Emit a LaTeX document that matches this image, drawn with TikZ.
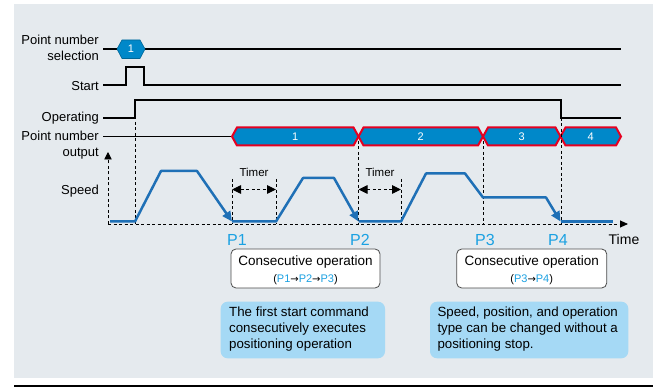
\documentclass[tikz,border=0pt]{standalone}
\usepackage{fontspec}
\setmainfont{Liberation Sans}
\newfontfamily\arrowfont{DejaVu Sans}
\usetikzlibrary{arrows.meta}
\definecolor{bg}{HTML}{E5EAEE}
\definecolor{hexblue}{HTML}{0088C9}
\definecolor{hexred}{HTML}{E60020}
\definecolor{spd}{HTML}{1F70B6}
\definecolor{plbl}{HTML}{1BA1E2}
\definecolor{note}{HTML}{A5D9F5}
\newcommand{\rarr}{{\arrowfont\fontsize{10}{12}\selectfont →}}
\tikzset{
  sig/.style={line width=1.8pt, black},
  dsh/.style={line width=0.9pt, black, dash pattern=on 3pt off 2.5pt},
  spdline/.style={line width=2.5pt, spd, line join=round},
  spdarrow/.style={-{Triangle[length=10pt,width=9pt]}},
  tmarrow/.style={{Triangle[length=9pt,width=8.5pt]}-{Triangle[length=9pt,width=8.5pt]}},
  lbl/.style={font=\fontsize{13}{16}\selectfont, anchor=east, align=right, inner sep=0pt},
  plabel/.style={font=\fontsize{16}{18}\selectfont, text=plbl, inner sep=0pt},
  timerlbl/.style={font=\fontsize{11.5}{13}\selectfont, inner sep=0pt},
  hexnum/.style={font=\fontsize{11}{13}\selectfont, text=white, inner sep=0pt},
  consbox/.style={draw=black!70, line width=0.8pt, fill=white, rounded corners=5pt, minimum height=39pt},
  notebox/.style={fill=note, rounded corners=7pt, minimum height=56.6pt},
  notetext/.style={font=\fontsize{13.3}{16}\selectfont, align=left, anchor=west, inner sep=0pt},
}
\begin{document}
\begin{tikzpicture}[x=1pt,y=-1pt]
\useasboundingbox (0,0) rectangle (653,387);
\fill[bg] (14,4) rectangle (653,378);
\draw[line width=2pt] (14,385.8) -- (653,385.8);

% labels
\node[lbl] (l1) at (99,47.5) {Point number\\selection};
\node[lbl] (l2) at (99,86) {Start};
\node[lbl] (l3) at (99,118) {Operating};
\node[lbl] (l4) at (99,145) {Point number\\output};
\node[lbl] (l5) at (99,191) {Speed};

% point number selection
\draw[sig] (103,49) -- (117,49);
\draw[sig] (145,49) -- (621,49);
\filldraw[fill=hexblue, draw=hexblue!75!black, line width=0.6pt]
  (117,49) -- (122,40) -- (140,40) -- (145,49) -- (140,58.5) -- (122,58.5) -- cycle;
\node[hexnum] (s1) at (131,49) {1};

% start
\draw[sig] (103,85) -- (126,85) -- (126,67) -- (144,67) -- (144,85) -- (621,85);
% operating
\draw[sig] (103,118) -- (135,118) -- (135,100) -- (561,100) -- (561,118) -- (621,118);
% point number output
\draw[sig] (103,136.5) -- (232,136.5);
\foreach \a/\b/\n in {232/358.5/1, 358.5/483/2, 483/560.5/3, 560.5/621/4}{
  \filldraw[fill=hexblue, draw=hexred, line width=2pt, line join=miter]
    (\a,136.5) -- (\a+5,127.5) -- (\b-5,127.5) -- (\b,136.5) -- (\b-5,145.5) -- (\a+5,145.5) -- cycle;
  \node[hexnum] (o\n) at ({(\a+\b)/2},136.5) {\n};
}

% dashed guides
\draw[dsh] (135,100) -- (135,224);
\draw[dsh] (358.5,141) -- (358.5,224);
\draw[dsh] (483,141) -- (483,224);
\draw[dsh] (561,118) -- (561,224);
\draw[dsh] (232,179) -- (232,224);
\draw[dsh] (276,179) -- (276,224);
\draw[dsh] (401,179) -- (401,224);

% axes
\draw[dsh, -{Triangle[length=7.5pt,width=7.5pt]}] (108,224) -- (108,152);
\draw[dsh, -{Triangle[length=8pt,width=7pt]}] (108,224) -- (628,224);

% timers
\draw[dsh, tmarrow] (232,189.5) -- (276,189.5);
\node[timerlbl] (t1) at (254,172) {Timer};
\draw[dsh, tmarrow] (358.5,189.5) -- (401,189.5);
\node[timerlbl] (t2) at (380,172) {Timer};

% speed profile
\draw[spdline, spdarrow] (110,221.5) -- (135,221.5) -- (161,171) -- (197,171) -- (232,221.5);
\draw[spdline, spdarrow] (232,221.5) -- (276,221.5) -- (303,178) -- (334,178) -- (358.5,221.5);
\draw[spdline, spdarrow] (358.5,221.5) -- (401,221.5) -- (426,173.5) -- (465,173.5) -- (483,197.5) -- (546,197.5) -- (560.5,221.5);
\draw[spdline] (560.5,221.5) -- (613,221.5);

% P labels
\node[plabel] (p1) at (237,240) {P1};
\node[plabel] (p2) at (360,240) {P2};
\node[plabel] (p3) at (485,240) {P3};
\node[plabel] (p4) at (558,240) {P4};
\node[font=\fontsize{14}{16}\selectfont, inner sep=0pt] (time) at (624,239.5) {Time};

% consecutive boxes
\node[consbox, minimum width=149pt] (cb1) at (305.5,268.5) {};
\node[font=\fontsize{13.5}{16}\selectfont, inner sep=0pt] (cb1a) at (305.5,262) {Consecutive operation};
\node[font=\fontsize{11}{13}\selectfont, inner sep=0pt] (cb1b) at (305.5,280) {(\textcolor{plbl}{P1}\rarr\textcolor{plbl}{P2}\rarr\textcolor{plbl}{P3})};
\node[consbox, minimum width=150pt] (cb2) at (531.7,268.5) {};
\node[font=\fontsize{13.5}{16}\selectfont, inner sep=0pt] (cb2a) at (531.7,262) {Consecutive operation};
\node[font=\fontsize{11}{13}\selectfont, inner sep=0pt] (cb2b) at (531.7,280) {(\textcolor{plbl}{P3}\rarr\textcolor{plbl}{P4})};

% notes
\node[notebox, minimum width=164.3pt] (n1) at (302.85,330) {};
\node[notetext] (n1t) at (229,329.5) {The first start command\\consecutively executes\\positioning operation};
\node[notebox, minimum width=198.3pt] (n2) at (529.15,330) {};
\node[notetext] (n2t) at (437.3,329.5) {Speed, position, and operation\\type can be changed without a\\positioning stop.};
\end{tikzpicture}
\end{document}
